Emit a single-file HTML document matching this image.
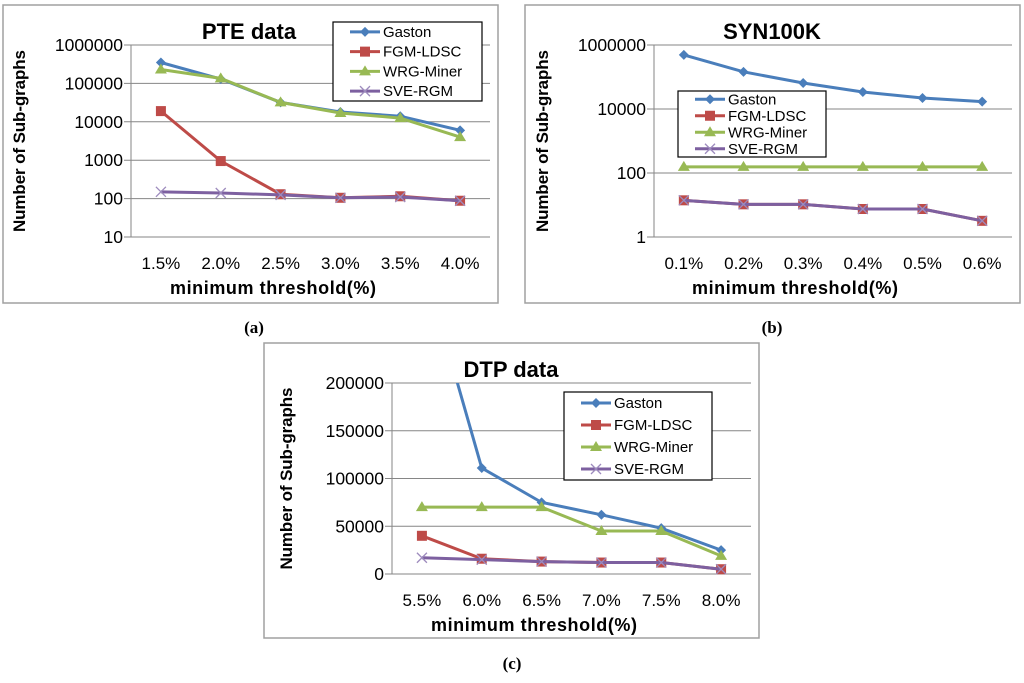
<!DOCTYPE html>
<html><head><meta charset="utf-8">
<style>
body{margin:0;background:#fff;width:1024px;height:678px;overflow:hidden;font-family:"Liberation Sans",sans-serif}
svg text{font-family:"Liberation Sans",sans-serif}
</style></head>
<body>
<svg id="s" width="1024" height="678" viewBox="0 0 1024 678"></svg>
<script>
const seriesNames=["Gaston","FGM-LDSC","WRG-Miner","SVE-RGM"];
const colors=["#4a7ebb","#be4b48","#98b954","#7d60a0"];
// chart a
const catsA=["1.5%","2.0%","2.5%","3.0%","3.5%","4.0%"];
const gastonA=[350000,130000,32000,18000,14000,6000];
const fgmA=[19000,950,130,105,115,88];
const wrgA=[230000,135000,32000,17000,12500,4000];
const sveA=[150,140,125,105,110,88];
const ticksA=[10,100,1000,10000,100000,1000000];
// chart b
const catsB=["0.1%","0.2%","0.3%","0.4%","0.5%","0.6%"];
const gastonB=[490000,145000,65000,34000,22000,17000];
const fgmB=[14,10.5,10.5,7.5,7.5,3.2];
const wrgB=[155,155,155,155,155,155];
const sveB=[14,10.5,10.5,7.5,7.5,3.2];
const ticksB=[1,100,10000,1000000];
// chart c
const catsC=["5.5%","6.0%","6.5%","7.0%","7.5%","8.0%"];
const gastonC=[330000,111000,75000,62000,48000,25000];
const fgmC=[40000,16000,13000,12000,12000,5000];
const wrgC=[70000,70000,70000,45000,45000,19000];
const sveC=[17000,15000,13000,12000,12000,5000];
const ticksC=[0,50000,100000,150000,200000];

const NS="http://www.w3.org/2000/svg";
const svg=document.getElementById('s');
function mk(tag,attrs,parent,txt){const e=document.createElementNS(NS,tag);for(const k in attrs)e.setAttribute(k,attrs[k]);if(txt!==undefined)e.textContent=txt;(parent||svg).appendChild(e);return e;}

function chart(cfg){
  const g=mk('g',{});
  
  
  const fr=mk('rect',{x:cfg.fx,y:cfg.fy,width:cfg.fw,height:cfg.fh,fill:'#fff',stroke:'#a0a0a0','stroke-width':1.5},g);
  
  
  const x0=cfg.px,x1=cfg.pr,yTop=cfg.pt,yBot=cfg.pb;
  const lo=cfg.log?Math.log10(cfg.ticks[0]):cfg.ticks[0];
  const hi=cfg.log?Math.log10(cfg.ticks[cfg.ticks.length-1]):cfg.ticks[cfg.ticks.length-1];
  const yS=v=>{const t=cfg.log?Math.log10(v):v;return yBot-(t-lo)/(hi-lo)*(yBot-yTop);};
  const cw=(x1-x0)/cfg.cats.length;
  const xS=i=>x0+cw*(i+0.5);
  cfg.ticks.forEach(t=>{
    const y=yS(t);
    const l=mk('line',{x1:x0-7,x2:x1,y1:y,y2:y,stroke:'#868686','stroke-width':1},g);
    
    
    const tx=mk('text',{x:x0-8,y:y+6,'text-anchor':'end','font-size':17.5,fill:'#000'},g,String(t));
    
    
  });
  const ax=mk('line',{x1:x0,x2:x0,y1:yTop,y2:yBot,stroke:'#868686','stroke-width':1},g);
  
  
  cfg.cats.forEach((c,i)=>{
    const t=mk('text',{x:xS(i),y:yBot+32,'text-anchor':'middle','font-size':17,fill:'#000'},g,c);
    
    
  });
  const clipId='clip'+cfg.id;
  const cp=mk('clipPath',{id:clipId},g);
  mk('rect',{x:x0,y:yTop,width:x1-x0+10,height:yBot-yTop+12},cp);
  const pg=mk('g',{'clip-path':'url(#'+clipId+')'},g);
  cfg.series.forEach((arr,si)=>{
    const pts=arr.map((v,i)=>xS(i)+','+yS(v)).join(' ');
    const pl=mk('polyline',{points:pts,fill:'none',stroke:colors[si],'stroke-width':3},pg);
    
    
    arr.forEach((v,i)=>{
      const m=marker(si,xS(i),yS(v),pg);
      
      
    });
  });
  const tt=mk('text',{x:cfg.tx,y:cfg.fy+34,'text-anchor':'middle','font-size':22,'font-weight':'bold',fill:'#000'},g,cfg.title);
  
  
  const xt=mk('text',{x:cfg.xtx,y:yBot+57,'text-anchor':'middle','font-size':18,'font-weight':'bold',fill:'#000','textLength':206},g,'minimum threshold(%)');
  
  
  const yt=mk('text',{x:0,y:0,'text-anchor':'middle','font-size':17,'font-weight':'bold',fill:'#000',textLength:182,transform:'translate('+cfg.ytx+','+((yTop+yBot)/2)+') rotate(-90)'},g,'Number of Sub-graphs');
  
  
  // legend
  const lg=mk('g',{},g);
  
  
  mk('rect',{x:cfg.lx,y:cfg.ly,width:cfg.lw,height:cfg.lh,fill:'#fff',stroke:'#000','stroke-width':1.2},lg);
  const step=cfg.lh/4;
  seriesNames.forEach((n,si)=>{
    const y=cfg.ly+step*(si+0.5);
    const e=mk('g',{},lg);
    
    
    mk('line',{x1:cfg.lx+17,x2:cfg.lx+47,y1:y,y2:y,stroke:colors[si],'stroke-width':3},e);
    marker(si,cfg.lx+32,y,e);
    mk('text',{x:cfg.lx+50,y:y+5,'font-size':15,fill:'#000'},e,n);
  });
}
function marker(si,x,y,p){
  const c=colors[si];
  if(si===0)return mk('path',{d:`M${x} ${y-5}L${x+5} ${y}L${x} ${y+5}L${x-5} ${y}Z`,fill:c},p);
  if(si===1)return mk('rect',{x:x-5,y:y-5,width:10,height:10,fill:c},p);
  if(si===2)return mk('path',{d:`M${x} ${y-6}L${x+6} ${y+4}L${x-6} ${y+4}Z`,fill:c},p);
  return mk('path',{d:`M${x-5} ${y-5}L${x+5} ${y+5}M${x+5} ${y-5}L${x-5} ${y+5}`,stroke:'#9d8bbd','stroke-width':1.3,fill:'none'},p);
}
chart({id:'chart-pte',fx:3,fy:5,fw:495,fh:298,px:131,pr:490,pt:45,pb:237,log:true,ticks:ticksA,cats:catsA,series:[gastonA,fgmA,wrgA,sveA],title:'PTE data',tx:249,xtx:273,ytx:25,lx:333,ly:22,lw:149,lh:79});
chart({id:'chart-syn',fx:525,fy:5,fw:495,fh:298,px:654,pr:1012,pt:45,pb:237,log:true,ticks:ticksB,cats:catsB,series:[gastonB,fgmB,wrgB,sveB],title:'SYN100K',tx:772,xtx:795,ytx:548,lx:678,ly:91,lw:148,lh:66});
chart({id:'chart-dtp',fx:264,fy:343,fw:495,fh:295,px:392,pr:751,pt:383,pb:574,log:false,ticks:ticksC,cats:catsC,series:[gastonC,fgmC,wrgC,sveC],title:'DTP data',tx:511,xtx:534,ytx:292,lx:564,ly:392,lw:148,lh:88});
[["(a)",254,333],["(b)",772,333],["(c)",512,669]].forEach(c=>{
  const t=mk('text',{x:c[1],y:c[2],'text-anchor':'middle','font-size':17,'font-weight':'bold',fill:'#000',style:'font-family:"Liberation Serif",serif'},svg,c[0]);
  
  
});
</script>
</body></html>
